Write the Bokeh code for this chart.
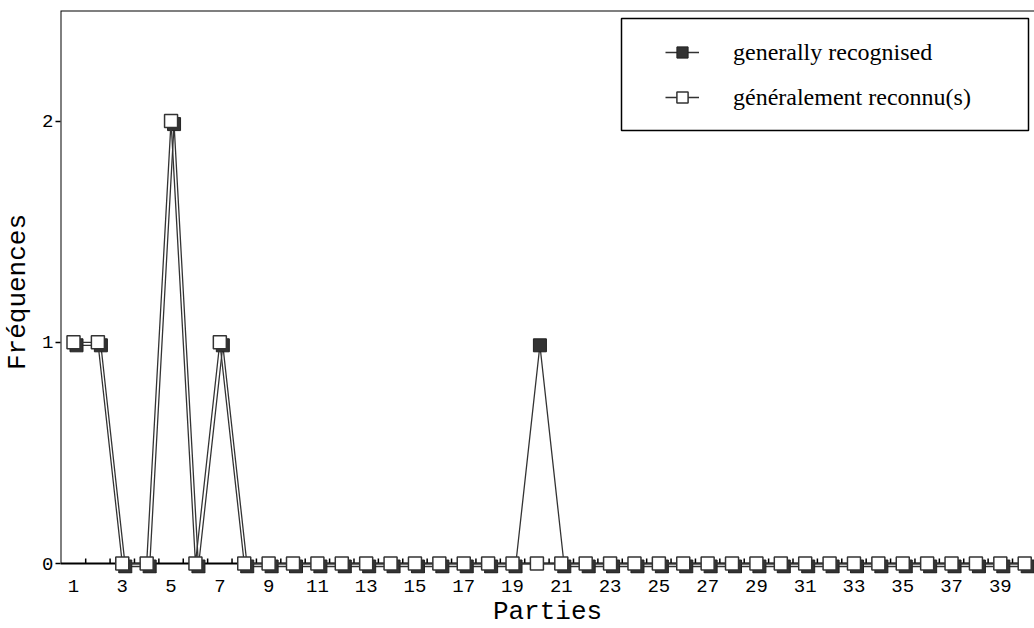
from bokeh.plotting import figure
from bokeh.models import Legend, LegendItem, BoxAnnotation, FixedTicker, ColumnDataSource
from bokeh.transform import dodge
from bokeh.embed import file_html
from bokeh.resources import INLINE

# ---- data ----
parties = list(range(1, 41))
generally_recognised = [1, 1, 0, 0, 2, 0, 1, 0, 0, 0,
                        0, 0, 0, 0, 0, 0, 0, 0, 0, 1,
                        0, 0, 0, 0, 0, 0, 0, 0, 0, 0,
                        0, 0, 0, 0, 0, 0, 0, 0, 0, 0]
generalement_reconnus = [1, 1, 0, 0, 2, 0, 1, 0, 0, 0,
                         0, 0, 0, 0, 0, 0, 0, 0, 0, 0,
                         0, 0, 0, 0, 0, 0, 0, 0, 0, 0,
                         0, 0, 0, 0, 0, 0, 0, 0, 0, 0]
x_tick_labels = parties[::2]
y_ticks = [0, 1, 2]

# ---- geometry (pixels) ----
border_left, border_top, border_bottom = 60, 10, 55
frame_w, frame_h = 974, 563
px_x = 24.39                      # pixels per unit along x
px_y = 553 / 2.5                  # pixels per unit along y
x_start = 1 - 13 / px_x
x_end = x_start + frame_w / px_x
y_end = 2.5
y_start = -10 / px_y
shadow = 3                        # px offset of the dark series

src = ColumnDataSource(dict(x=parties, a=generally_recognised, b=generalement_reconnus))
tsrc = ColumnDataSource(dict(x0=[v + 0.5 for v in parties[:-1]],
                             y0=[0] * (len(parties) - 1),
                             y1=[5 / px_y] * (len(parties) - 1)))

p = figure(frame_width=frame_w, frame_height=frame_h,
           x_range=(x_start, x_end), y_range=(y_start, y_end),
           output_backend="svg", toolbar_location=None,
           min_border_left=border_left, min_border_top=border_top,
           min_border_right=0, min_border_bottom=border_bottom)
p.outline_line_color = None
p.grid.visible = False
p.background_fill_color = "white"
p.border_fill_color = "white"

# frame lines (left, top, and baseline at zero)
p.add_layout(BoxAnnotation(bottom=0, right=x_end + 5, fill_alpha=0,
                           line_color="black", line_alpha=1, line_width=2, level="underlay"))

# small ticks between parties on the baseline
p.segment(x0="x0", y0="y0", x1="x0", y1="y1", source=tsrc, line_color="black", line_width=1.5)

dx = dodge("x", shadow / px_x)
dy = dodge("a", -shadow / px_y)
bl = p.line(x=dx, y=dy, source=src, line_color="#333333", line_width=1.3)
bs = p.scatter(x=dx, y=dy, source=src, marker="square", size=13,
               fill_color="#333333", line_color="#222222", line_width=1)
wl = p.line(x="x", y="b", source=src, line_color="#333333", line_width=1.3)
ws = p.scatter(x="x", y="b", source=src, marker="square", size=13,
               fill_color="white", line_color="#333333", line_width=1.5)

# axes
mono = "Liberation Mono"
p.xaxis.ticker = FixedTicker(ticks=x_tick_labels)
p.xaxis.axis_line_color = None
p.xaxis.major_tick_line_color = None
p.xaxis.minor_tick_line_color = None
p.xaxis.major_label_standoff = 0
p.xaxis.axis_label = "Parties"
p.xaxis.axis_label_standoff = 2

p.yaxis.ticker = FixedTicker(ticks=y_ticks)
p.yaxis.axis_line_color = None
p.yaxis.major_tick_out = 5
p.yaxis.major_tick_in = 0
p.yaxis.major_tick_line_color = "black"
p.yaxis.major_tick_line_width = 1.5
p.yaxis.minor_tick_line_color = None
p.yaxis.major_label_standoff = 2
p.yaxis.axis_label = "Fréquences"
p.yaxis.axis_label_standoff = 6

for ax in (p.xaxis, p.yaxis):
    ax.major_label_text_font = mono
    ax.major_label_text_font_size = "19px"
    ax.major_label_text_color = "black"
    ax.axis_label_text_font = mono
    ax.axis_label_text_font_size = "26px"
    ax.axis_label_text_font_style = "normal"
    ax.axis_label_text_color = "black"

# legend box
def fx(px):
    return x_start + (px - border_left) / px_x

def fy(py):
    return y_end - (py - border_top) / px_y

p.add_layout(BoxAnnotation(left=fx(621), right=fx(1028), top=fy(18), bottom=fy(130),
                           fill_color="white", fill_alpha=1, line_color="black",
                           line_alpha=1, line_width=1.5, level="overlay"))

legend = Legend(items=[LegendItem(label="generally recognised", renderers=[bl, bs]),
                       LegendItem(label="généralement reconnu(s)", renderers=[wl, ws])],
                location=(605, frame_h - (38 - border_top) - 73), border_line_color=None,
                background_fill_alpha=0, padding=0, margin=0, spacing=17,
                label_height=28, glyph_height=28, glyph_width=34, label_standoff=34,
                label_text_font="Liberation Serif", label_text_font_size="24px",
                label_text_color="black")
p.add_layout(legend)

open("out.html", "w").write(file_html(p, INLINE))
